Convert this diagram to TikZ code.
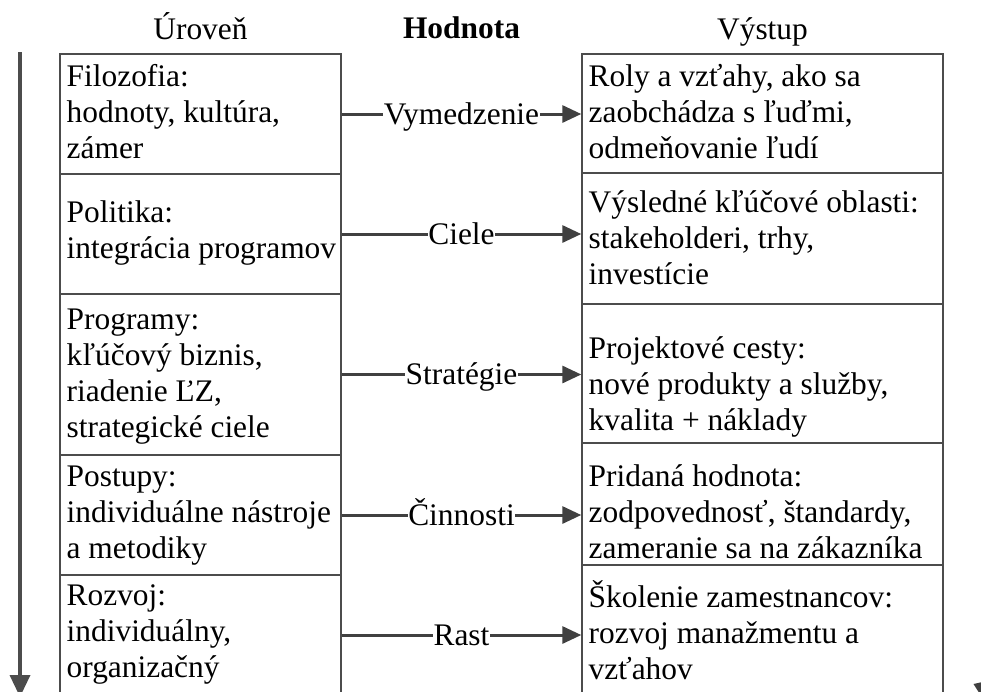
\documentclass[tikz,border=0pt]{standalone}
\usepackage{fontspec}
\setmainfont{Liberation Serif}
\usetikzlibrary{arrows.meta}
\begin{document}
\begin{tikzpicture}[x=1pt,y=-1pt,
  txt/.style={font=\fontsize{31.4}{36}\selectfont},
  rowbox/.style={draw=black!70,line width=1.4pt,rectangle,inner sep=0pt},
  boxtext/.style={txt,align=left,anchor=north west,inner sep=0pt},
  head/.style={txt,anchor=base,inner sep=0pt},
  conn/.style={draw=black!75,line width=3pt,-{Triangle[length=19pt,width=17pt]}},
  lbl/.style={txt,fill=white,inner xsep=0.5pt,inner ysep=0pt,anchor=base,yshift=-10pt},
  bigarrow/.style={draw=black!70,line width=3.5pt,-{Triangle[length=22pt,width=20pt]}}]
\useasboundingbox (0,0) rectangle (981,691);
\clip (0,0) rectangle (981,691);
\fill[white] (0,0) rectangle (981,691);

% column headings
\node[head] (hL) at (200.5,39.5) {Úroveň};
\node[head,font=\fontsize{31.4}{36}\selectfont\bfseries] (hM) at (461.5,38.5) {Hodnota};
\node[head] (hR) at (762.5,39.5) {Výstup};

% left column rows
\node[rowbox,minimum width=281pt,minimum height=120pt] (L1) at (200.5,114) {};
\node[rowbox,minimum width=281pt,minimum height=120pt] (L2) at (200.5,234) {};
\node[rowbox,minimum width=281pt,minimum height=161pt] (L3) at (200.5,374.5) {};
\node[rowbox,minimum width=281pt,minimum height=120pt] (L4) at (200.5,515) {};
\node[rowbox,minimum width=281pt,minimum height=120pt] (L5) at (200.5,635) {};

% right column rows
\node[rowbox,minimum width=361pt,minimum height=119pt] (R1) at (762.5,113.5) {};
\node[rowbox,minimum width=361pt,minimum height=131pt] (R2) at (762.5,238.5) {};
\node[rowbox,minimum width=361pt,minimum height=139pt] (R3) at (762.5,373.5) {};
\node[rowbox,minimum width=361pt,minimum height=122pt] (R4) at (762.5,504) {};
\node[rowbox,minimum width=361pt,minimum height=130pt] (R5) at (762.5,630) {};

% left column texts
\node[boxtext] (tL1) at (66.5,60.8) {\strut Filozofia:\\\strut hodnoty, kultúra,\\\strut zámer};
\node[boxtext] (tL2) at (66.5,197.3) {\strut Politika:\\\strut integrácia programov};
\node[boxtext] (tL3) at (66.5,303.8) {\strut Programy:\\\strut kľúčový biznis,\\\strut riadenie ĽZ,\\\strut strategické ciele};
\node[boxtext] (tL4) at (66.5,460.8) {\strut Postupy:\\\strut individuálne nástroje\\\strut a metodiky};
\node[boxtext] (tL5) at (66.5,579.8) {\strut Rozvoj:\\\strut individuálny,\\\strut organizačný};

% right column texts
\node[boxtext] (tR1) at (588.5,60.8) {\strut Roly a vzťahy, ako sa\\\strut zaobchádza s ľuďmi,\\\strut odmeňovanie ľudí};
\node[boxtext] (tR2) at (588.5,186.8) {\strut Výsledné kľúčové oblasti:\\\strut stakeholderi, trhy,\\\strut investície};
\node[boxtext] (tR3) at (588.5,332.8) {\strut Projektové cesty:\\\strut nové produkty a služby,\\\strut kvalita + náklady};
\node[boxtext] (tR4) at (588.5,460.8) {\strut Pridaná hodnota:\\\strut zodpovednosť, štandardy,\\\strut zameranie sa na zákazníka};
\node[boxtext] (tR5) at (588.5,580.8) {\strut Školenie zamestnancov:\\\strut rozvoj manažmentu a\\\strut vzťahov};

% connectors between the columns
\draw[conn] (L1.east) -- node[lbl] {Vymedzenie} (L1.east -| R1.west);
\draw[conn] (L2.east) -- node[lbl] {Ciele} (L2.east -| R2.west);
\draw[conn] (L3.east) -- node[lbl] {Stratégie} (L3.east -| R3.west);
\draw[conn] (L4.east) -- node[lbl] {Činnosti} (L4.east -| R4.west);
\draw[conn] (L5.east) -- node[lbl] {Rast} (L5.east -| R5.west);

% level axis on the left
\coordinate (axTop) at (20,52);
\coordinate (axEnd) at (20,697);
\draw[bigarrow] (axTop) -- (axEnd);

% arrow tip at the lower right edge
\fill[black!75] (973.5,684) -- (987,681) -- (983,699) -- cycle;
\end{tikzpicture}
\end{document}
